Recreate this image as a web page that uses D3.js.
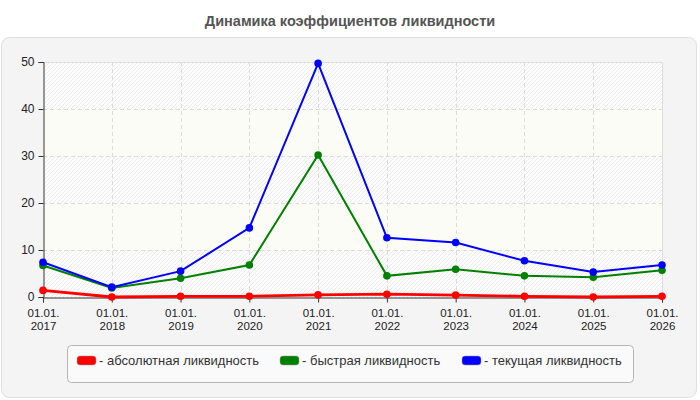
<!DOCTYPE html>
<html>
<head>
<meta charset="utf-8">
<script src="https://cdn.jsdelivr.net/npm/d3@7"></script>
<style>
  body { margin: 0; background: #fff; }
  svg { font-family: Arial, "Liberation Sans", sans-serif; }
</style>
</head>
<body>
<div id="chart"></div>
<script>
'use strict';

var TITLE = 'Динамика коэффициентов ликвидности';
var DATES = ['01.01.2017', '01.01.2018', '01.01.2019', '01.01.2020', '01.01.2021',
             '01.01.2022', '01.01.2023', '01.01.2024', '01.01.2025', '01.01.2026'];
var ABSOLUTE = [1.4, 0.0, 0.15, 0.15, 0.45, 0.6, 0.4, 0.15, 0.0, 0.15];
var QUICK = [6.7, 1.9, 4.0, 6.8, 30.2, 4.5, 5.9, 4.5, 4.2, 5.7];
var CURRENT = [7.4, 2.1, 5.5, 14.7, 49.7, 12.6, 11.6, 7.7, 5.3, 6.8];
var Y_TICKS = [0, 10, 20, 30, 40, 50];
var SERIES_NAMES = ['- абсолютная ликвидность', '- быстрая ликвидность', '- текущая ликвидность'];

var COLORS = ['#ff0000', '#008000', '#0000ff'];

var W = 700, H = 400;
var PLOT = { left: 43, right: 662, top: 62, bottom: 297 };

var svg = d3.select('#chart').append('svg')
  .attr('width', W)
  .attr('height', H);

// hatch pattern for alternate bands
var pattern = svg.append('defs')
  .append('pattern')
  .attr('id', 'hatch')
  .attr('patternUnits', 'userSpaceOnUse')
  .attr('width', 4)
  .attr('height', 4);
pattern.append('rect')
  .attr('width', 4).attr('height', 4)
  .attr('fill', '#fdfdfd');
pattern.append('path')
  .attr('d', 'M-1,1 l2,-2 M0,4 l4,-4 M3,5 l2,-2')
  .attr('stroke', '#ececec')
  .attr('stroke-width', 1);

// outer panel
svg.append('rect')
  .attr('x', 1.5).attr('y', 37.5)
  .attr('width', 695).attr('height', 360)
  .attr('rx', 8).attr('ry', 8)
  .attr('fill', '#f4f4f4')
  .attr('stroke', '#dedede');

svg.append('text')
  .attr('x', 350).attr('y', 26)
  .attr('text-anchor', 'middle')
  .style('font-size', '14.5px')
  .style('font-weight', 'bold')
  .style('fill', '#555')
  .text(TITLE);

var x = d3.scalePoint()
  .domain(DATES)
  .range([PLOT.left, PLOT.right]);

var y = d3.scaleLinear()
  .domain([0, 50])
  .range([PLOT.bottom, PLOT.top]);

var g = svg.append('g');

// background bands
g.selectAll('rect.band')
  .data(Y_TICKS.slice(0, -1))
  .enter()
  .append('rect')
  .attr('class', 'band')
  .attr('x', PLOT.left)
  .attr('width', PLOT.right - PLOT.left)
  .attr('y', function(d) { return y(d + 10); })
  .attr('height', function(d) { return y(d) - y(d + 10); })
  .attr('fill', function(d, i) { return i % 2 === 0 ? 'url(#hatch)' : '#fcfcf6'; });

// plot border (top/right)
g.append('path')
  .attr('d', 'M' + PLOT.left + ',' + (PLOT.top + 0.5) + 'H' + (PLOT.right + 0.5) + 'V' + PLOT.bottom)
  .attr('fill', 'none')
  .attr('stroke', '#dddddd');

// grid
g.selectAll('line.hgrid')
  .data(Y_TICKS.slice(1, -1))
  .enter()
  .append('line')
  .attr('x1', PLOT.left).attr('x2', PLOT.right)
  .attr('y1', function(d) { return Math.round(y(d)) + 0.5; })
  .attr('y2', function(d) { return Math.round(y(d)) + 0.5; })
  .attr('stroke', '#dcdcdc')
  .attr('stroke-dasharray', '4,3');

g.selectAll('line.vgrid')
  .data(DATES.slice(1, -1))
  .enter()
  .append('line')
  .attr('y1', PLOT.top).attr('y2', PLOT.bottom)
  .attr('x1', function(d) { return Math.round(x(d)) + 0.5; })
  .attr('x2', function(d) { return Math.round(x(d)) + 0.5; })
  .attr('stroke', '#dcdcdc')
  .attr('stroke-dasharray', '4,3');

// axes
var yAxis = d3.axisLeft(y).tickValues(Y_TICKS).tickSize(5).tickPadding(4);
var yg = svg.append('g')
  .attr('transform', 'translate(' + (PLOT.left + 0.5) + ',0)')
  .call(yAxis);
yg.select('.domain').attr('stroke', '#333');
yg.selectAll('.tick line').attr('stroke', '#333');
yg.selectAll('.tick text')
  .style('font-size', '12px')
  .style('fill', '#222')
  .style('font-family', 'Arial, "Liberation Sans", sans-serif');

var xAxis = d3.axisBottom(x).tickSize(5).tickFormat(function() { return ''; });
var xg = svg.append('g')
  .attr('transform', 'translate(0,' + (PLOT.bottom + 0.5) + ')')
  .call(xAxis);
xg.select('.domain').attr('stroke', '#333');
xg.selectAll('.tick line').attr('stroke', '#333');
xg.selectAll('.tick text').remove();

// two-line date labels as separate texts
[[0, 6, 19], [6, 10, 32]].forEach(function(part) {
  xg.selectAll('.tick')
    .append('text')
    .attr('x', 0)
    .attr('y', part[2])
    .attr('text-anchor', 'middle')
    .style('font-size', '11.5px')
    .style('fill', '#222')
    .style('font-family', 'Arial, "Liberation Sans", sans-serif')
    .text(function(d) { return d.slice(part[0], part[1]); });
});

// series
var seriesData = [ABSOLUTE, QUICK, CURRENT];
var drawOrder = [1, 2, 0];

var line = d3.line()
  .x(function(d, i) { return x(DATES[i]); })
  .y(function(d) { return y(d); });

drawOrder.forEach(function(s) {
  var values = seriesData[s];
  svg.append('path')
    .datum(values)
    .attr('d', line)
    .attr('fill', 'none')
    .attr('stroke', COLORS[s])
    .attr('stroke-width', s === 0 ? 2.8 : 2);

  svg.append('g')
    .selectAll('circle')
    .data(values)
    .enter()
    .append('circle')
    .attr('cx', function(d, i) { return x(DATES[i]); })
    .attr('cy', function(d) { return y(d); })
    .attr('r', 3.8)
    .attr('fill', COLORS[s]);
});

// legend
var legend = svg.append('g');
legend.append('rect')
  .attr('x', 67.5).attr('y', 345.5)
  .attr('width', 566).attr('height', 37)
  .attr('rx', 4).attr('ry', 4)
  .attr('fill', '#fafafa')
  .attr('stroke', '#b5b5b5');

var LEGEND_X = [77, 280, 462];
SERIES_NAMES.forEach(function(name, i) {
  legend.append('rect')
    .attr('x', LEGEND_X[i]).attr('y', 356)
    .attr('width', 19).attr('height', 9)
    .attr('rx', 3).attr('ry', 3)
    .attr('fill', COLORS[i])
    .attr('stroke', '#999')
    .attr('stroke-width', 0.5);
  legend.append('text')
    .attr('x', LEGEND_X[i] + 22).attr('y', 365)
    .style('font-size', '13px')
    .style('fill', '#333')
    .text(name);
});
</script>
</body>
</html>
